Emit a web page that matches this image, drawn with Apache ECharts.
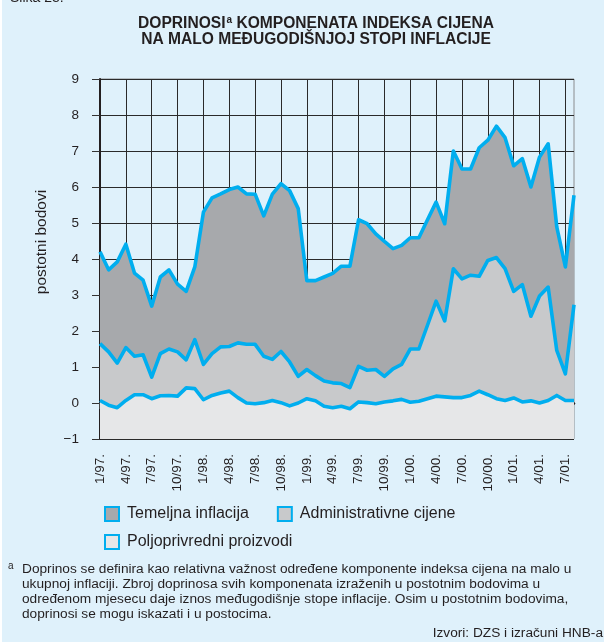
<!DOCTYPE html>
<html>
<head>
<meta charset="utf-8">
<script src="https://cdn.jsdelivr.net/npm/echarts@6/dist/echarts.min.js"></script>
<style>
  html, body { margin: 0; padding: 0; background: #ffffff; }
  #main { width: 604px; height: 642px; }
</style>
</head>
<body>
<div id="main"></div>
<script>
// mjeseci od 1/97. do 8/01.
var mjeseci = [
  '1/97.', '2/97.', '3/97.', '4/97.', '5/97.', '6/97.', '7/97.', '8/97.', '9/97.', '10/97.', '11/97.', '12/97.',
  '1/98.', '2/98.', '3/98.', '4/98.', '5/98.', '6/98.', '7/98.', '8/98.', '9/98.', '10/98.', '11/98.', '12/98.',
  '1/99.', '2/99.', '3/99.', '4/99.', '5/99.', '6/99.', '7/99.', '8/99.', '9/99.', '10/99.', '11/99.', '12/99.',
  '1/00.', '2/00.', '3/00.', '4/00.', '5/00.', '6/00.', '7/00.', '8/00.', '9/00.', '10/00.', '11/00.', '12/00.',
  '1/01.', '2/01.', '3/01.', '4/01.', '5/01.', '6/01.', '7/01.', '8/01.'
]

// gornja linija: ukupni doprinos (temeljna + administrativne + poljoprivredni)
var ukupno = [
  4.2, 3.7, 3.92, 4.41, 3.61, 3.41, 2.69, 3.5, 3.7, 3.3, 3.1, 3.78,
  5.3, 5.7, 5.81, 5.93, 6.0, 5.81, 5.8, 5.2, 5.8, 6.09, 5.9, 5.4,
  3.4, 3.4, 3.5, 3.6, 3.8, 3.8, 5.09, 4.98, 4.7, 4.49, 4.29, 4.38,
  4.59, 4.59, 5.09, 5.58, 4.98, 7.0, 6.5, 6.5, 7.09, 7.3, 7.69, 7.37,
  6.59, 6.79, 6.0, 6.83, 7.2, 4.89, 3.78, 5.77
]
// srednja linija: administrativne cijene + poljoprivredni proizvodi
var adminPolj = [
  1.65, 1.42, 1.11, 1.54, 1.3, 1.34, 0.72, 1.37, 1.5, 1.42, 1.2, 1.76,
  1.07, 1.37, 1.56, 1.57, 1.67, 1.63, 1.63, 1.3, 1.21, 1.43, 1.14, 0.74,
  0.93, 0.76, 0.61, 0.56, 0.54, 0.43, 1.02, 0.91, 0.93, 0.74, 0.95, 1.07,
  1.5, 1.5, 2.16, 2.83, 2.28, 3.73, 3.45, 3.55, 3.52, 3.96, 4.04, 3.73,
  3.1, 3.29, 2.41, 2.97, 3.22, 1.46, 0.81, 2.73
]
// donja linija: poljoprivredni proizvodi
var polj = [
  0.07, -0.06, -0.13, 0.07, 0.23, 0.23, 0.12, 0.2, 0.21, 0.19, 0.42, 0.4,
  0.09, 0.21, 0.28, 0.33, 0.15, 0.0, -0.02, 0.01, 0.07, 0.01, -0.08, 0.0,
  0.12, 0.06, -0.09, -0.13, -0.09, -0.16, 0.03, 0.01, -0.02, 0.03, 0.06, 0.1,
  0.02, 0.05, 0.12, 0.19, 0.17, 0.15, 0.15, 0.21, 0.33, 0.23, 0.12, 0.07,
  0.14, 0.03, 0.06, 0.0, 0.07, 0.21, 0.07, 0.07
]

var plava = '#00aeef'
var tamna = '#231f20'
var font = 'Liberation Sans, Arial, Helvetica, sans-serif'
var svakiTreci = function (i) { return i % 3 === 0 }

var myChart = echarts.init(document.getElementById('main'))

function serija(name, data, fill) {
  return {
    name: name,
    type: 'line',
    data: data,
    symbol: 'none',
    silent: true,
    lineStyle: { color: plava, width: 3.6, join: 'round' },
    itemStyle: { color: fill },
    areaStyle: { color: fill, opacity: 1, origin: 'start' }
  }
}

var option = {
  backgroundColor: '#dff1fb',
  animation: false,
  textStyle: { fontFamily: font },
  title: {
    text: 'DOPRINOSI{sup|a} KOMPONENATA INDEKSA CIJENA\nNA MALO MEĐUGODIŠNJOJ STOPI INFLACIJE',
    left: 311,
    top: 11,
    textAlign: 'center',
    textStyle: {
      fontFamily: font,
      fontSize: 15.6,
      fontWeight: 'bold',
      color: tamna,
      lineHeight: 16,
      rich: {
        // eksponent podignut paddingom
        sup: { fontSize: 10, fontWeight: 'bold', color: tamna, lineHeight: 10, padding: [0, 0, 7, 1] }
      }
    }
  },
  grid: {
    left: 100,
    right: 30,
    top: 79,
    bottom: 203,
    show: true,
    borderColor: '#8a8c8e',
    borderWidth: 1
  },
  legend: [
    {
      data: [
        { name: 'Temeljna inflacija', itemStyle: { color: '#a7a9ac', borderColor: plava, borderWidth: 2 } },
        { name: 'Administrativne cijene', itemStyle: { color: '#c8c9cb', borderColor: plava, borderWidth: 2 } }
      ],
      left: 99,
      top: 501,
      icon: 'rect',
      itemWidth: 14,
      itemHeight: 14,
      itemGap: 28,
      selectedMode: false,
      textStyle: { fontFamily: font, fontSize: 16, color: tamna, padding: [0, 0, 0, 3] }
    },
    {
      data: [
        { name: 'Poljoprivredni proizvodi', itemStyle: { color: '#e6e7e8', borderColor: plava, borderWidth: 2 } }
      ],
      left: 99,
      top: 529,
      icon: 'rect',
      itemWidth: 14,
      itemHeight: 14,
      selectedMode: false,
      textStyle: { fontFamily: font, fontSize: 16, color: tamna, padding: [0, 0, 0, 3] }
    }
  ],
  xAxis: {
    type: 'category',
    data: mjeseci,
    boundaryGap: false,
    axisLine: { lineStyle: { color: tamna, width: 2.5 } },
    axisTick: { interval: svakiTreci, length: 6, lineStyle: { color: '#555', width: 1.5 } },
    axisLabel: {
      interval: svakiTreci,
      rotate: 90,
      margin: 15,
      fontSize: 13.5,
      color: tamna,
      fontFamily: font
    },
    splitLine: { show: true, interval: svakiTreci, lineStyle: { color: '#2a2a2a', width: 1 } }
  },
  yAxis: {
    type: 'value',
    min: -1,
    max: 9,
    interval: 1,
    axisLine: { show: true, lineStyle: { color: tamna, width: 2 } },
    axisTick: { show: true, length: 8, lineStyle: { color: '#333', width: 1 } },
    axisLabel: {
      margin: 21,
      fontSize: 13.5,
      color: tamna,
      fontFamily: font,
      formatter: function (v) { return String(v).replace('-', '\u2212') }
    },
    splitLine: { show: true, lineStyle: { color: '#2a2a2a', width: 1 } }
  },
  graphic: [
    // bijeli rub lijevo
    { type: 'rect', left: 0, top: 0, shape: { width: 2, height: 642 }, style: { fill: '#ffffff' }, silent: true },
    { type: 'text', left: 10, top: -9, style: { text: 'Slika 28.', font: '14px ' + font, fill: tamna } },
    {
      type: 'text', x: 42, y: 242, rotation: Math.PI / 2,
      style: { text: 'postotni bodovi', font: '15.5px ' + font, fill: tamna, align: 'center', verticalAlign: 'middle' }
    },
    { type: 'text', left: 8, top: 561, style: { text: 'a', font: '10px ' + font, fill: tamna } },
    {
      type: 'text', left: 22, top: 562,
      style: {
        text: 'Doprinos se definira kao relativna važnost određene komponente indeksa cijena na malo u\n' +
          'ukupnoj inflaciji. Zbroj doprinosa svih komponenata izraženih u postotnim bodovima u\n' +
          'određenom mjesecu daje iznos međugodišnje stope inflacije. Osim u postotnim bodovima,\n' +
          'doprinosi se mogu iskazati i u postocima.',
        font: '13.7px ' + font,
        lineHeight: 15,
        fill: tamna
      }
    },
    {
      type: 'text', x: 603, y: 633,
      style: { text: 'Izvori: DZS i izračuni HNB-a', font: '13.7px ' + font, fill: tamna, align: 'right', verticalAlign: 'middle' }
    }
  ],
  series: [
    serija('Temeljna inflacija', ukupno, '#a7a9ac'),
    serija('Administrativne cijene', adminPolj, '#c8c9cb'),
    serija('Poljoprivredni proizvodi', polj, '#e6e7e8')
  ]
}

myChart.setOption(option)
</script>
</body>
</html>
